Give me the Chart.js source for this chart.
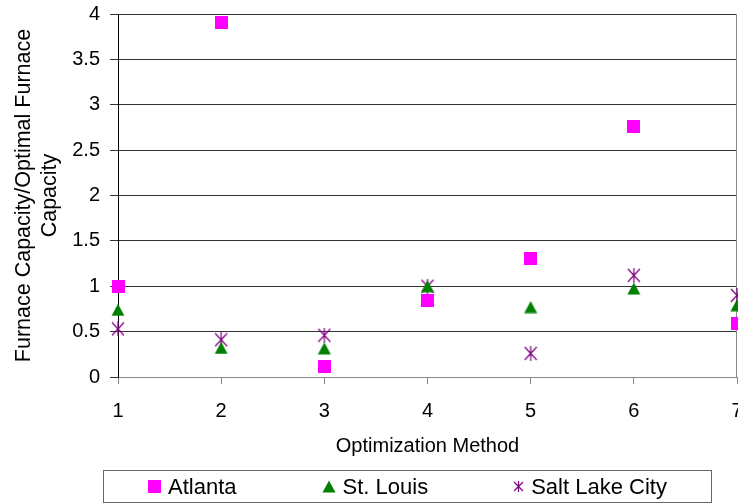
<!DOCTYPE html>
<html>
<head>
<meta charset="utf-8">
<script src="https://cdn.jsdelivr.net/npm/chart.js@4.4.1/dist/chart.umd.min.js"></script>
<style>
  html, body { margin: 0; padding: 0; background: #fff; overflow: hidden; }
  #wrap { position: relative; width: 738px; height: 504px; overflow: hidden; }
  #c { position: absolute; left: 0; top: 0; }
  #legend {
    position: absolute; left: 103px; top: 470px; width: 609px; height: 33px;
    border: 1px solid #666; box-sizing: border-box;
    display: flex; justify-content: center; align-items: center; gap: 85px;
    font: 22px "Liberation Sans", Arial, sans-serif; color: #000;
  }
  .item { display: flex; align-items: center; white-space: nowrap; }
  .item canvas { margin-right: 7px; }
</style>
</head>
<body>
<div id="wrap">
  <canvas id="c" width="742" height="504"></canvas>
  <div id="legend"></div>
</div>
<script>
// ---- data ----
const categories = [1, 2, 3, 4, 5, 6, 7];
const atlanta = [1.0, 3.91, 0.12, 0.84, 1.31, 2.755, 0.59];
const stLouis = [0.74, 0.32, 0.315, 1.0, 0.77, 0.975, 0.79];
const saltLakeCity = [0.53, 0.41, 0.46, 1.0, 0.26, 1.12, 0.9];
const seriesNames = ['Atlanta', 'St. Louis', 'Salt Lake City'];
const xTitle = 'Optimization Method';
const yTitle = ['Furnace Capacity/Optimal Furnace', 'Capacity'];

// ---- markers ----
function marker(kind, scale) {
  const c = document.createElement('canvas');
  const s = scale || 1;
  if (kind === 'square') {
    c.width = Math.round(13 * s); c.height = Math.round(13 * s);
    const g = c.getContext('2d');
    g.fillStyle = '#FF00FF';
    g.fillRect(0, 0, c.width, c.height);
  } else if (kind === 'triangle') {
    c.width = Math.round(14 * s); c.height = Math.round(13 * s);
    const g = c.getContext('2d');
    g.fillStyle = '#008000';
    g.beginPath();
    g.moveTo(c.width / 2, 0.5);
    g.lineTo(c.width - 0.5, c.height - 0.5);
    g.lineTo(0.5, c.height - 0.5);
    g.closePath();
    g.fill();
  } else {
    c.width = Math.round(14 * s); c.height = Math.round(15 * s);
    const g = c.getContext('2d');
    g.strokeStyle = '#800080';
    g.lineWidth = 1.2;
    g.beginPath();
    g.moveTo(1, 1); g.lineTo(c.width - 1, c.height - 1);
    g.moveTo(c.width - 1, 1); g.lineTo(1, c.height - 1);
    g.moveTo(c.width / 2, 0); g.lineTo(c.width / 2, c.height);
    g.stroke();
  }
  return c;
}

const kinds = ['square', 'triangle', 'star'];
const values = [atlanta, stLouis, saltLakeCity];

const datasets = seriesNames.map((name, k) => ({
  label: name,
  data: categories.map((x, i) => ({ x: x, y: values[k][i] })),
  pointStyle: marker(kinds[k]),
  showLine: false,
  clip: false
}));

// legend (HTML)
const legend = document.getElementById('legend');
seriesNames.forEach((name, k) => {
  const it = document.createElement('div');
  it.className = 'item';
  it.appendChild(marker(kinds[k], k === 2 ? 0.75 : 1));
  const sp = document.createElement('span');
  sp.textContent = name;
  it.appendChild(sp);
  legend.appendChild(it);
});

const rightBorder = {
  id: 'rightBorder',
  beforeDatasetsDraw(chart) {
    const a = chart.chartArea, g = chart.ctx;
    g.save();
    g.strokeStyle = '#888';
    g.lineWidth = 1;
    g.beginPath();
    g.moveTo(Math.round(a.right) - 0.5, a.top);
    g.lineTo(Math.round(a.right) - 0.5, a.bottom);
    g.stroke();
    g.restore();
  }
};

Chart.defaults.font.family = '"Liberation Sans", Arial, sans-serif';
Chart.defaults.color = '#000';

new Chart(document.getElementById('c'), {
  type: 'scatter',
  data: { datasets: datasets },
  plugins: [rightBorder],
  options: {
    responsive: false,
    animation: false,
    layout: { padding: { top: 14, right: 0, left: 0, bottom: 0 } },
    plugins: { legend: { display: false }, tooltip: { enabled: false } },
    scales: {
      x: {
        type: 'linear', position: 'bottom', min: 1, max: 7,
        ticks: { stepSize: 1, font: { size: 20 }, padding: 15, color: '#000', maxRotation: 0 },
        grid: { drawOnChartArea: false, tickLength: 7, color: '#888' },
        border: { color: '#888' },
        title: { display: true, text: xTitle, font: { size: 20 }, color: '#000', padding: { top: 0, bottom: 46 } },
        afterFit(s) { s.height = 127; s.paddingLeft = 0; s.paddingRight = 0; }
      },
      y: {
        min: 0, max: 4,
        ticks: { stepSize: 0.5, font: { size: 20 }, padding: 10, color: '#000',
                 callback: (v) => String(v) },
        grid: { color: '#333', tickLength: 8 },
        border: { color: '#000' },
        title: { display: true, text: yTitle, font: { size: 21.5, lineHeight: 1.2 }, color: '#000', padding: { top: 11, bottom: 0 } },
        afterFit(s) { s.width = 118; s.paddingTop = 0; s.paddingBottom = 0; }
      }
    }
  }
});
</script>
</body>
</html>
